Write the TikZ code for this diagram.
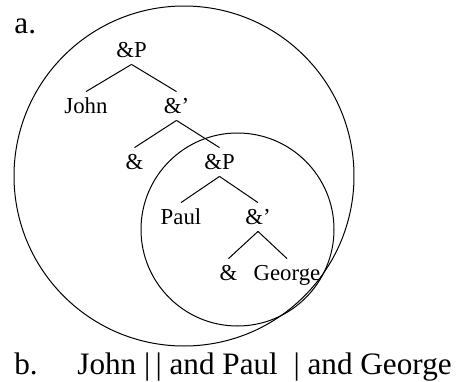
\documentclass[tikz,border=0pt]{standalone}
\usepackage{fontspec}
\setmainfont{Liberation Serif}
\usetikzlibrary{positioning}

\begin{document}
\begin{tikzpicture}[
  x=0.5pt, y=-0.5pt,
  tn/.style={anchor=base, inner sep=0pt, text height=1.05em, text depth=0.35em, font=\fontsize{11.4}{13}\selectfont},
  lbl/.style={anchor=base west, inner sep=0pt, font=\fontsize{15.6}{18}\selectfont},
  br/.style={line width=0.5pt}
]
\useasboundingbox (0,0) rectangle (456,381);
% the two domains
\draw[br] (184,176) circle[radius=170];
\draw[br] (237.5,229.5) circle[radius=96.5];
% labels
\node[lbl] (la) at (14,33) {a.};
\node[lbl] (lb) at (14,374) {b.};
\node[lbl] (sent) at (77,374) {John |\,| and Paul\enspace| and George};
% the tree
\node[tn] (andp1) at (131.5,57) {\&P};
\node[tn] (john) at (86,113) {John};
\node[tn] (andbar1) at (176.5,113) {\&'};
\node[tn] (and1) at (134.5,169) {\&};
\node[tn] (andp2) at (219.5,169) {\&P};
\node[tn] (paul) at (181,224) {Paul};
\node[tn] (andbar2) at (258,224) {\&'};
\node[tn] (and2) at (228.5,280) {\&};
\node[tn] (george) at (287,280) {George};
\draw[br] (andp1.south) -- (john.north);
\draw[br] (andp1.south) -- (andbar1.north);
\draw[br] (andbar1.south) -- (and1.north);
\draw[br] (andbar1.south) -- (andp2.north);
\draw[br] (andp2.south) -- (paul.north);
\draw[br] (andp2.south) -- (andbar2.north);
\draw[br] (andbar2.south) -- (and2.north);
\draw[br] (andbar2.south) -- (george.north);
\end{tikzpicture}
\end{document}
